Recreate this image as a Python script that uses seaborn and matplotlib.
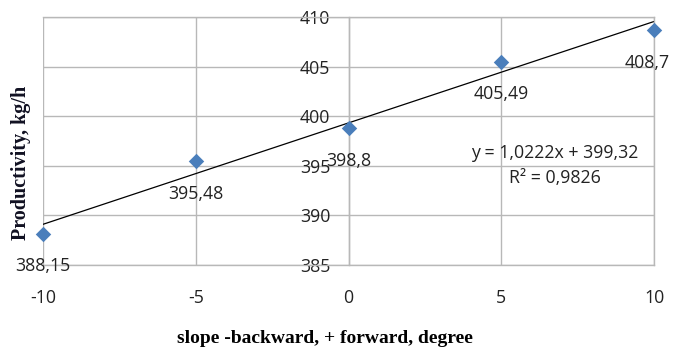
import matplotlib
matplotlib.use("Agg")
import matplotlib.pyplot as plt
import seaborn as sns
import pandas as pd
import numpy as np

slope_deg = [-10, -5, 0, 5, 10]
productivity = [388.15, 395.48, 398.8, 405.49, 408.7]
point_labels = ["388,15", "395,48", "398,8", "405,49", "408,7"]
x_ticks = [-10, -5, 0, 5, 10]
y_ticks = [385, 390, 395, 400, 405, 410]
equation_text = "y = 1,0222x + 399,32"
r2_text = "R² = 0,9826"

sns.set_theme(style="white")
plt.rcParams['font.family'] = ['Open Sans', 'DejaVu Sans']
plt.rcParams['axes.unicode_minus'] = False

df = pd.DataFrame({"slope": slope_deg, "prod": productivity})

fig = plt.figure(figsize=(6.74, 3.51), dpi=100)
ax = fig.add_axes([43/674, 1-265/351, (654-43)/674, (265-17)/351])

sns.regplot(data=df, x="slope", y="prod", ax=ax, ci=None, scatter=False,
            line_kws=dict(color="black", lw=0.9))
sns.scatterplot(data=df, x="slope", y="prod", ax=ax, marker="D", s=62,
                color="#4a7ebb", edgecolor="#4a7ebb", linewidth=0, zorder=5,
                clip_on=False)

fs = 12.8
for i, (x, y, lab) in enumerate(zip(slope_deg, productivity, point_labels)):
    dx = -5 if i == len(slope_deg) - 1 else 0
    ax.annotate(lab, (x, y), xytext=(dx, -23.5), textcoords="offset points",
                ha="center", va="center", fontsize=fs, color="#222222",
                annotation_clip=False)

ax.set_xlim(-10, 10)
ax.set_ylim(385, 410)
ax.set_xticks(x_ticks)
ax.set_yticks(y_ticks)
ax.grid(True, color="#b8b8b8", lw=1)
ax.set_axisbelow(True)

for s in ["top", "right", "bottom", "left"]:
    ax.spines[s].set_color("#b8b8b8")
    ax.spines[s].set_linewidth(1)
ax.spines["left"].set_position(("data", 0))

ax.tick_params(axis="y", length=0, pad=13, labelsize=fs, labelcolor="#222222")
ax.tick_params(axis="x", length=0, pad=17, labelsize=fs, labelcolor="#222222")

ax.text(0.838, 0.452, equation_text, transform=ax.transAxes, ha="center",
        va="center", fontsize=fs, color="#222222")
ax.text(0.838, 0.351, r2_text, transform=ax.transAxes, ha="center",
        va="center", fontsize=fs, color="#222222")

ax.set_xlabel("slope -backward, + forward, degree", fontsize=14,
              fontweight="bold", family=["Liberation Serif"], color="black")
ax.set_ylabel("Productivity, kg/h", fontsize=14.5, fontweight="bold",
              family=["Liberation Serif"], color="#111122")
ax.xaxis.set_label_coords(0.462, -0.262)
ax.yaxis.set_label_coords(-0.02, 0.411)

fig.savefig("out.png", dpi=100)
